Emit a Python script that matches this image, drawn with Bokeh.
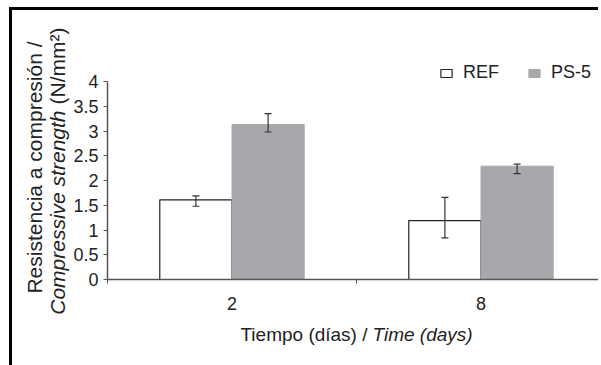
import numpy as np
from bokeh.plotting import figure
from bokeh.models import (ColumnDataSource, Range1d, FixedTicker, Whisker, TeeHead,
                          Label, Legend, LegendItem)
from bokeh.embed import file_html
from bokeh.resources import INLINE

# ---- data ----
categories = ["2", "8"]
series_names = ["REF", "PS-5"]
ref_vals = [1.61, 1.19]
ref_err_low = [1.48, 0.84]
ref_err_high = [1.69, 1.66]
ps5_vals = [3.13, 2.29]
ps5_err_low = [2.98, 2.14]
ps5_err_high = [3.35, 2.33]
y_ticks = [0, 0.5, 1, 1.5, 2, 2.5, 3, 3.5, 4]
y_tick_labels = ["0", "0.5", "1", "1.5", "2", "2.5", "3", "3.5", "4"]

FONT = "Liberation Sans"
TXT = "#222222"
AX = "#555555"
GRAY = "#a7a8ac"

W, H = 589, 362          # canvas size
X0, Y0 = 95, 93          # axis origin inside canvas (from left, from bottom)
PX_X, PX_Y = 249.0, 49.5  # pixels per data unit

centers = np.arange(len(categories)) + 0.5
off = 0.145
bw = 0.29

src_ref = ColumnDataSource(dict(x=centers - off, top=ref_vals, lo=ref_err_low, hi=ref_err_high))
src_ps = ColumnDataSource(dict(x=centers + off, top=ps5_vals, lo=ps5_err_low, hi=ps5_err_high))

x_end = (W - X0) / PX_X
y_end = 4.0
p = figure(width=W, height=H, output_backend="svg", toolbar_location=None,
           x_range=Range1d(-X0 / PX_X, x_end),
           y_range=Range1d(-Y0 / PX_Y, (H - Y0) / PX_Y),
           min_border=0,
           styles={"border-left": "3px solid black", "border-top": "3px solid black",
                   "margin-left": "9px", "margin-top": "7px"})
p.outline_line_color = None
p.grid.visible = False
p.background_fill_color = "white"
p.border_fill_color = "white"

r_ref = p.vbar(x="x", top="top", width=bw, source=src_ref, fill_color="white",
               line_color="#222222", line_width=1.2)
r_ps = p.vbar(x="x", top="top", width=bw, source=src_ps, fill_color=GRAY,
              line_color=GRAY, line_width=1)

for s in (src_ref, src_ps):
    w = Whisker(base="x", lower="lo", upper="hi", source=s, dimension="height",
                line_color="#333333", line_width=1.2,
                upper_head=TeeHead(size=7, line_color="#333333", line_width=1.2),
                lower_head=TeeHead(size=7, line_color="#333333", line_width=1.2),
                level="overlay")
    p.add_layout(w)

# x axis (drawn at y = 0)
xa = p.xaxis[0]
xa.fixed_location = 0
xa.bounds = (0, x_end)
xa.ticker = FixedTicker(ticks=list(centers), minor_ticks=[0, 1, 2])
xa.major_label_overrides = {float(c): lab for c, lab in zip(centers, categories)}
xa.major_tick_line_color = None
xa.major_tick_out = 0
xa.major_tick_in = 0
xa.minor_tick_out = 4
xa.minor_tick_in = 0
xa.minor_tick_line_color = AX
xa.axis_line_color = AX
xa.axis_line_width = 1.5
xa.major_label_text_font = FONT
xa.major_label_text_font_size = "18px"
xa.major_label_text_color = TXT
xa.major_label_standoff = 13

# y axis (drawn at x = 0)
ya = p.yaxis[0]
ya.fixed_location = 0
ya.bounds = (0, y_end)
ya.ticker = FixedTicker(ticks=y_ticks, minor_ticks=[])
ya.major_label_overrides = {float(t): lab for t, lab in zip(y_ticks, y_tick_labels)}
ya.major_tick_out = 4
ya.major_tick_in = 0
ya.major_tick_line_color = AX
ya.axis_line_color = AX
ya.axis_line_width = 1.5
ya.major_label_text_font = FONT
ya.major_label_text_font_size = "18px"
ya.major_label_text_color = TXT
ya.major_label_standoff = 5

# screen helpers: canvas origin is at page (12, 10)
def sx(page_x):
    return page_x - 12

def sy(page_y):
    return (10 + H) - page_y

# y axis title (two lines, mixed styles)
common = dict(x_units="screen", y_units="screen", text_font=FONT, text_color=TXT,
              angle=np.pi / 2, text_baseline="alphabetic", text_font_size="21px")
p.add_layout(Label(x=sx(34), y=sy(167), text="Resistencia a compresión /",
                   text_align="center", **common))
p.add_layout(Label(x=sx(57), y=sy(110), text="Compressive strength", text_align="right",
                   text_font_style="italic", **common))
p.add_layout(Label(x=sx(57), y=sy(104), text="(N/mm²)", text_align="left", **common))

# x axis title
common_x = dict(x_units="screen", y_units="screen", text_font=FONT, text_color=TXT,
                text_baseline="alphabetic", text_font_size="19px")
p.add_layout(Label(x=sx(367), y=sy(334), text="Tiempo (días) /", text_align="right", **common_x))
p.add_layout(Label(x=sx(372), y=sy(334), text="Time (days)", text_align="left",
                   text_font_style="italic", **common_x))

legend = Legend(items=[LegendItem(label=series_names[0], renderers=[r_ref]),
                       LegendItem(label=series_names[1], renderers=[r_ps])],
                location=(sx(439), sy(83)), orientation="horizontal",
                glyph_width=14, glyph_height=10, label_standoff=10, spacing=28,
                padding=0, margin=0, border_line_color=None, background_fill_alpha=0,
                label_text_font=FONT, label_text_font_size="18px", label_text_color=TXT)
p.add_layout(legend)

open("out.html", "w").write(file_html(p, INLINE))
